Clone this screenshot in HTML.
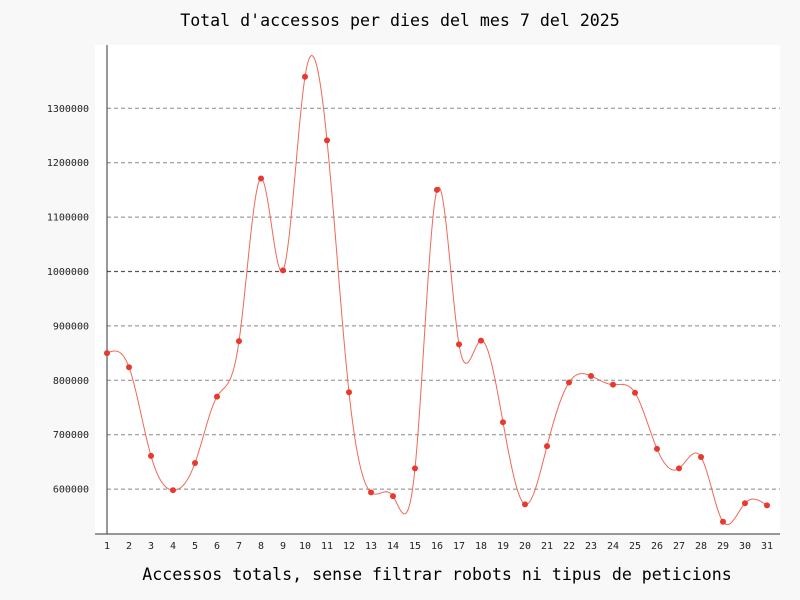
<!DOCTYPE html>
<html><head><meta charset="utf-8"><style>
html,body{margin:0;padding:0;background:#f8f8f8;}
svg{display:block;font-family:"DejaVu Sans Mono","Liberation Mono",monospace;}
</style></head><body>
<svg id="s" width="800" height="600" xmlns="http://www.w3.org/2000/svg">
<rect width="800" height="600" fill="#f8f8f8"/>
<rect x="95" y="45" width="685" height="489" fill="#fff"/>
<text x="400" y="26" text-anchor="middle" font-size="16.6" fill="#000">Total d'accessos per dies del mes 7 del 2025</text>
<text x="437" y="580" text-anchor="middle" font-size="16.6" fill="#000">Accessos totals, sense filtrar robots ni tipus de peticions</text>
<g id="grid"></g>
<line x1="107" y1="45" x2="107" y2="534" stroke="#333" stroke-width="1"/>
<line x1="95" y1="534" x2="780" y2="534" stroke="#333" stroke-width="1"/>
<g id="ticks" font-size="10" fill="#222"></g>
<path id="curve" fill="none" stroke="#f0685a" stroke-width="1"/>
<g id="pts" fill="#e8392f"></g>
</svg>
<script>
var NS="http://www.w3.org/2000/svg";
function el(t,a,p){var e=document.createElementNS(NS,t);for(var k in a)e.setAttribute(k,a[k]);p.appendChild(e);return e;}
function Y(v){return 271.5-(v-1000000)*0.000544;}
function X(d){return 107+(d-1)*22;}
var g=document.getElementById('grid'),tk=document.getElementById('ticks');
for(var v=600000;v<=1300000;v+=100000){
 var y=Y(v);
 el('line',{x1:107,y1:y,x2:780,y2:y,stroke:v==1000000?'#555':'#888','stroke-width':v==1000000?1.3:1,'stroke-dasharray':'4,3'},g);
 var t=el('text',{x:89,y:y+3.5,'text-anchor':'end'},tk);t.textContent=v;
}
for(var d=1;d<=31;d++){var t=el('text',{x:X(d),y:549,'text-anchor':'middle'},tk);t.textContent=d;}
var data=[850000,824000,661000,598000,648000,770000,872000,1171000,1002000,1358000,1241000,778000,594000,587000,638000,1150000,866000,873000,723000,572000,679000,796000,808000,792000,777000,674000,638000,659000,540000,574000,570000];
var n=data.length,xs=[],ys=[];
for(var i=0;i<n;i++){xs.push(X(i+1));ys.push(Y(data[i]));}
var h=22,M=new Array(n).fill(0);
var m=n-2,cp=[],dp=[];
for(var i=1;i<=m;i++){
 var rhs=6*(ys[i+1]-2*ys[i]+ys[i-1])/(h*h);
 if(i==1){cp[i]=1/4;dp[i]=rhs/4;}
 else{var den=4-cp[i-1];cp[i]=1/den;dp[i]=(rhs-dp[i-1])/den;}
}
for(var i=m;i>=1;i--){M[i]=dp[i]-(i<m?cp[i]*M[i+1]:0);}
var pd="M"+xs[0]+","+ys[0];
for(var i=0;i<n-1;i++){
 for(var k=1;k<=22;k++){
  var t=k/22,A=1-t,B=t;
  var yy=A*ys[i]+B*ys[i+1]+((A*A*A-A)*M[i]+(B*B*B-B)*M[i+1])*h*h/6;
  pd+=" L"+(xs[i]+k).toFixed(2)+","+yy.toFixed(2);
 }
}
document.getElementById('curve').setAttribute('d',pd);
var p=document.getElementById('pts');
for(var i=0;i<n;i++)el('circle',{cx:xs[i],cy:ys[i],r:3},p);
</script>
</body></html>
